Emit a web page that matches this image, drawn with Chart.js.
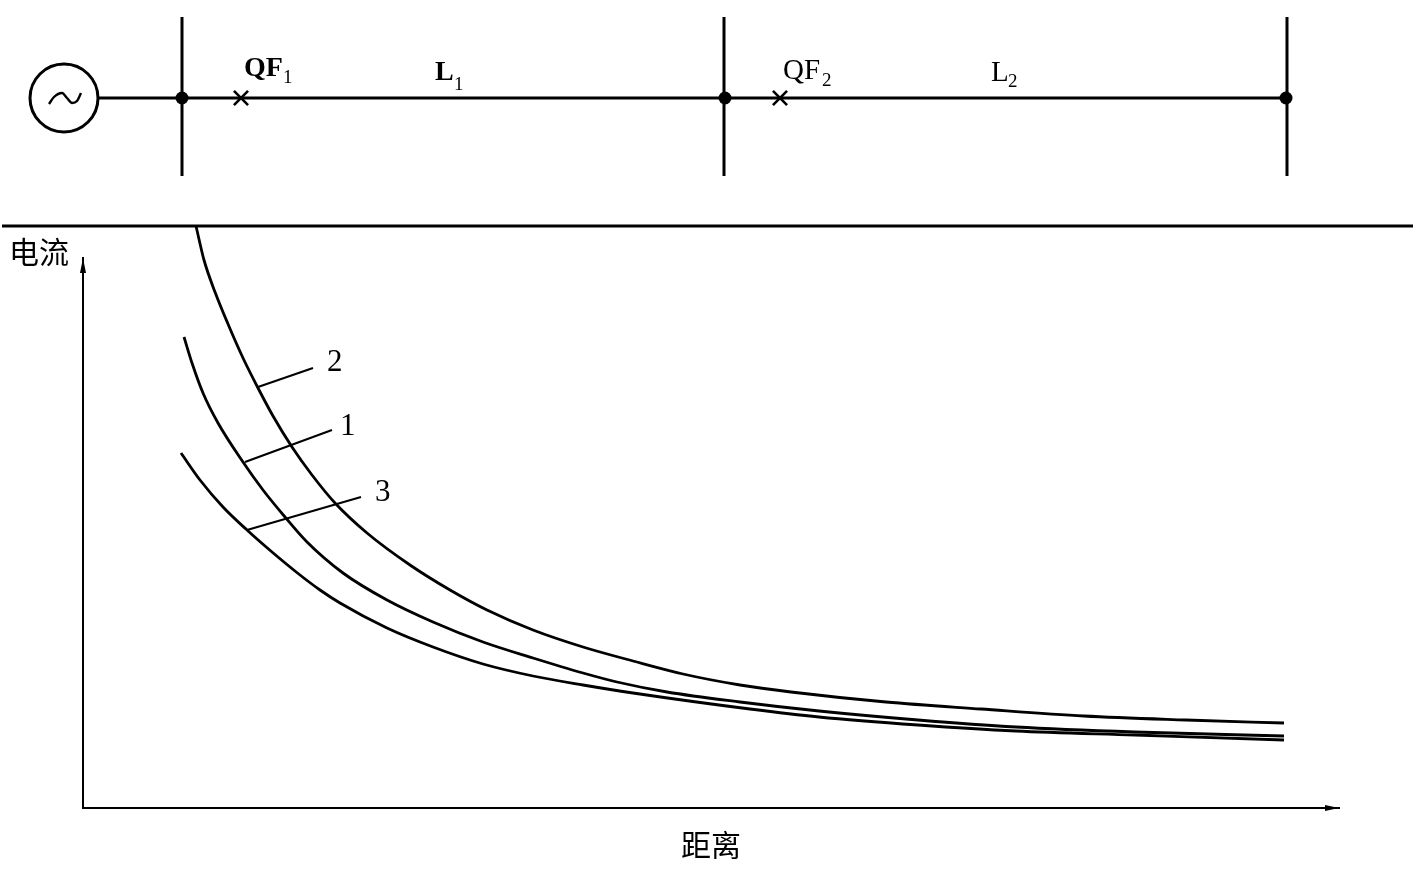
<!DOCTYPE html>
<html>
<head>
<meta charset="utf-8">
<title>电流 距离</title>
<script src="https://cdn.jsdelivr.net/npm/chart.js@4"></script>
<style>
  html, body { margin: 0; padding: 0; background: #fff; }
  #wrap { position: relative; width: 1418px; height: 878px; }
  canvas { position: absolute; left: 0; top: 0; display: block; }
</style>
</head>
<body>
<div id="wrap">
  <canvas id="plot" width="1418" height="878"></canvas>
  <canvas id="diagram" width="1418" height="230"></canvas>
</div>
<script>
// distance / current, origin at the axes corner
const curve1Distance = [101, 109, 120, 135, 160, 180, 202, 224, 260, 304, 350, 400, 450, 500, 534, 584, 657, 736, 835, 933, 1052, 1201];
const curve1Current  = [471, 445, 415, 385, 346, 318, 291, 266, 235, 208, 186, 166, 150, 135, 126, 116, 106, 97, 88, 81, 76, 72];

const curve2Distance = [113, 121, 132, 145, 160, 175, 190, 209, 229, 252, 284, 327, 367, 404, 450, 500, 550, 600, 657, 708, 803, 898, 1001, 1103, 1201];
const curve2Current  = [582, 548, 516, 484, 450, 420, 392, 361, 333, 305, 275, 243, 218, 198, 178, 161, 147, 134, 123, 116, 106, 99, 92, 88, 85];

const curve3Distance = [98, 117, 140, 164, 189, 217, 237, 257, 304, 350, 400, 450, 500, 550, 667, 736, 835, 933, 1052, 1201];
const curve3Current  = [355, 328, 301, 278, 256, 233, 218, 205, 180, 161, 144, 132, 123, 115, 99, 91, 83, 77, 73, 68];

// leader lines from each curve out to its number
const leader1Distance = [162, 249];
const leader1Current  = [346, 378];
const leader2Distance = [175, 230];
const leader2Current  = [421, 440];
const leader3Distance = [164, 278];
const leader3Current  = [278, 311];

const plotTexts    = ['2', '1', '3', '电流'];
const plotDistance = [244, 257, 292, -74];
const plotCurrent  = [445, 381, 315, 556];
const plotFonts    = ['digit', 'digit', 'digit', 'cjk'];

// one-line diagram above the plot
const feederPos   = [16, 1203];
const feederLevel = [132, 132];
const separatorPos   = [-81, 1330];
const separatorLevel = [4, 4];
const busbarPos   = [99, 642, 1203];
const busbarLevel = [132, 132, 132];
const bus1Pos = [99, 99];
const bus2Pos = [641, 641];
const bus3Pos = [1204, 1204];
const busLevel = [213, 54];
const breakerPos   = [158, 697];
const breakerLevel = [132, 132];
const sourcePos   = [-19];
const sourceLevel = [132];
const wavePos   = [-34, -29, -21, -16, -11, -6, -2];
const waveLevel = [126, 133, 137, 132, 127, 129, 137];

const diagramTexts = ['QF', '1', 'L', '1', 'QF', '2', 'L', '2'];
const diagramPos   = [161, 200, 352, 371, 700, 739, 908, 925];
const diagramLevel = [161, 152, 157, 145, 159, 149, 157, 148];
const diagramFonts = ['bold', 'sub', 'bold', 'sub', 'main', 'sub', 'main', 'sub'];

const zip = (xs, ys) => xs.map((x, i) => ({ x, y: ys[i] }));

const black = '#000000';
const lineSet = (data, width, extra) => Object.assign({
  data,
  showLine: true,
  borderColor: black,
  borderWidth: width,
  pointRadius: 0,
  clip: false
}, extra);

const fonts = {
  main: '29px "Liberation Serif"',
  bold: 'bold 28px "Liberation Serif"',
  sub: '19px "Liberation Serif"',
  digit: '31px "Liberation Serif"',
  cjk: '30px "Noto Sans CJK SC"'
};

const drawTexts = (chart, texts, xs, ys, fontNames) => {
  const { ctx, scales: { x, y } } = chart;
  ctx.save();
  ctx.fillStyle = black;
  ctx.textAlign = 'left';
  ctx.textBaseline = 'middle';
  texts.forEach((text, i) => {
    ctx.font = fonts[fontNames[i]];
    ctx.fillText(text, x.getPixelForValue(xs[i]), y.getPixelForValue(ys[i]));
  });
  ctx.restore();
};

const plotExtras = {
  id: 'plotExtras',
  afterDatasetsDraw(chart) {
    const { ctx, scales: { x, y } } = chart;
    ctx.save();
    ctx.fillStyle = black;

    // axis arrow heads
    const xEnd = x.getPixelForValue(x.max);
    const yZero = y.getPixelForValue(0);
    ctx.beginPath();
    ctx.moveTo(xEnd, yZero);
    ctx.lineTo(xEnd - 14, yZero - 3);
    ctx.lineTo(xEnd - 14, yZero + 3);
    ctx.closePath();
    ctx.fill();

    const yEnd = y.getPixelForValue(y.max);
    const xZero = x.getPixelForValue(0);
    ctx.beginPath();
    ctx.moveTo(xZero, yEnd);
    ctx.lineTo(xZero - 3, yEnd + 15);
    ctx.lineTo(xZero + 3, yEnd + 15);
    ctx.closePath();
    ctx.fill();
    ctx.restore();

    drawTexts(chart, plotTexts, plotDistance, plotCurrent, plotFonts);
  }
};

const diagramExtras = {
  id: 'diagramExtras',
  afterDatasetsDraw(chart) {
    drawTexts(chart, diagramTexts, diagramPos, diagramLevel, diagramFonts);
  }
};

new Chart(document.getElementById('plot'), {
  type: 'scatter',
  data: {
    datasets: [
      lineSet(zip(curve1Distance, curve1Current), 2.8, { cubicInterpolationMode: 'monotone' }),
      lineSet(zip(curve2Distance, curve2Current), 2.8, { cubicInterpolationMode: 'monotone' }),
      lineSet(zip(curve3Distance, curve3Current), 2.8, { cubicInterpolationMode: 'monotone' }),
      lineSet(zip(leader1Distance, leader1Current), 2),
      lineSet(zip(leader2Distance, leader2Current), 2),
      lineSet(zip(leader3Distance, leader3Current), 2)
    ]
  },
  options: {
    responsive: false,
    animation: false,
    events: [],
    layout: { padding: { left: 0, right: 79, top: 258, bottom: 0 } },
    plugins: { legend: { display: false }, tooltip: { enabled: false } },
    scales: {
      x: {
        type: 'linear',
        min: 0,
        max: 1256,
        afterFit: scale => { scale.height = 70; },
        ticks: { display: false },
        grid: { display: false },
        border: { color: black, width: 2 },
        title: {
          display: true,
          text: '距离',
          color: black,
          font: { family: '"Noto Sans CJK SC"', size: 30 },
          padding: { top: 0, bottom: 15 }
        }
      },
      y: {
        type: 'linear',
        min: 0,
        max: 550,
        afterFit: scale => { scale.width = 83; },
        ticks: { display: false },
        grid: { display: false },
        border: { color: black, width: 2 }
      }
    }
  },
  plugins: [plotExtras]
});

new Chart(document.getElementById('diagram'), {
  type: 'scatter',
  data: {
    datasets: [
      lineSet(zip(separatorPos, separatorLevel), 3),
      lineSet(zip(feederPos, feederLevel), 3),
      lineSet(zip(bus1Pos, busLevel), 3),
      lineSet(zip(bus2Pos, busLevel), 3),
      lineSet(zip(bus3Pos, busLevel), 3),
      lineSet(zip(wavePos, waveLevel), 2.4, { cubicInterpolationMode: 'monotone' }),
      {
        data: zip(busbarPos, busbarLevel),
        pointRadius: 6.5,
        pointBackgroundColor: black,
        pointBorderWidth: 0,
        clip: false
      },
      {
        data: zip(breakerPos, breakerLevel),
        pointStyle: 'crossRot',
        pointRadius: 10,
        pointBorderColor: black,
        pointBorderWidth: 2.6,
        clip: false
      },
      {
        data: zip(sourcePos, sourceLevel),
        pointRadius: 34,
        pointBackgroundColor: 'rgba(0,0,0,0)',
        pointBorderColor: black,
        pointBorderWidth: 3,
        clip: false
      }
    ]
  },
  options: {
    responsive: false,
    animation: false,
    events: [],
    layout: { padding: 0, autoPadding: false },
    plugins: { legend: { display: false }, tooltip: { enabled: false } },
    scales: {
      x: { type: 'linear', min: -83, max: 1335, display: false },
      y: { type: 'linear', min: 0, max: 230, display: false }
    }
  },
  plugins: [diagramExtras]
});
</script>
</body>
</html>
